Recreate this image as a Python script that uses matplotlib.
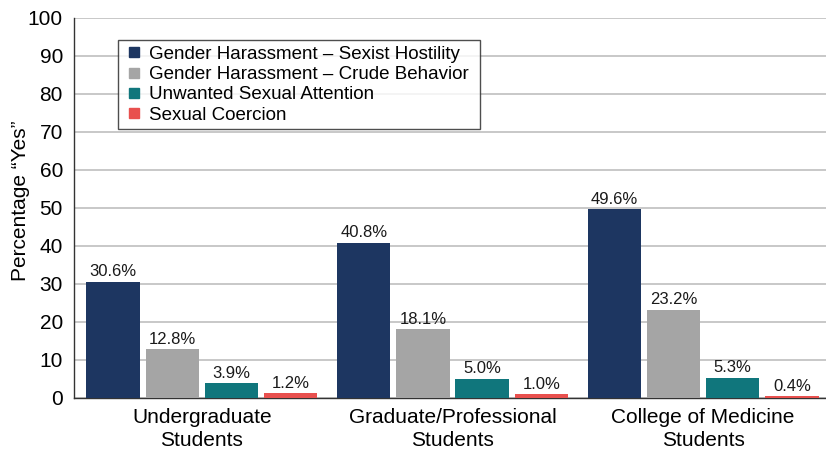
import numpy as np
import matplotlib.pyplot as plt
from matplotlib.lines import Line2D

plt.rcParams['font.family'] = ['Liberation Sans', 'DejaVu Sans']

groups = ['Undergraduate\nStudents', 'Graduate/Professional\nStudents', 'College of Medicine\nStudents']
series = ['Gender Harassment \u2013 Sexist Hostility',
          'Gender Harassment \u2013 Crude Behavior',
          'Unwanted Sexual Attention',
          'Sexual Coercion']
sexist_hostility = [30.6, 40.8, 49.6]
crude_behavior = [12.8, 18.1, 23.2]
unwanted_attention = [3.9, 5.0, 5.3]
coercion = [1.2, 1.0, 0.4]
colors = ['#1d3661', '#a5a5a5', '#10767c', '#e8504e']

values = [sexist_hostility, crude_behavior, unwanted_attention, coercion]

fig = plt.figure(figsize=(8.26, 4.49), dpi=100)
ax = fig.add_axes([0.0896, 0.1136, 0.9104, 0.8464])

x = np.arange(len(groups))
step = 0.236
width = 0.213
for i, (vals, col) in enumerate(zip(values, colors)):
    pos = x + 0.01 + (i - 1.5) * step
    bars = ax.bar(pos, vals, width, color=col, zorder=3)
    for b, v in zip(bars, vals):
        ax.text(b.get_x() + b.get_width() / 2, v + 0.7, '%.1f%%' % v,
                ha='center', va='bottom', fontsize=12, color='#1a1a1a')

ax.set_xlim(-0.5, 2.5)
ax.set_ylim(0, 100)
ax.set_yticks(np.arange(0, 101, 10))
ax.set_xticks(x + 0.01)
ax.set_xticklabels(groups, fontsize=15, linespacing=1.3)
ax.tick_params(axis='y', labelsize=15, length=0, pad=8)
ax.tick_params(axis='x', length=0, pad=7)
ax.yaxis.grid(True, color='#c4c4c4', linewidth=1.3, zorder=0)
ax.set_axisbelow(True)
for s in ['top', 'right']:
    ax.spines[s].set_visible(False)
ax.spines['left'].set_color('#333333')
ax.spines['bottom'].set_color('#333333')
ax.spines['left'].set_linewidth(1.0)
ax.spines['bottom'].set_linewidth(1.0)
ax.set_ylabel('Percentage \u201cYes\u201d', fontsize=15)
ax.yaxis.set_label_coords(-0.058, 0.52)

handles = [Line2D([], [], marker='s', linestyle='none', markersize=7.5,
                  markerfacecolor=c, markeredgecolor=c) for c in colors]
leg = ax.legend(handles, series, loc='upper left',
                bbox_to_anchor=(0.0585, 0.702, 0.481, 0.24), mode='expand',
                borderaxespad=0, fontsize=13.5, frameon=True, fancybox=False,
                handletextpad=0.25, labelspacing=0.17, borderpad=0.3,
                handlelength=1.1)
leg.get_frame().set_edgecolor('#222222')
leg.get_frame().set_linewidth(1.0)

fig.savefig('out.png', dpi=100)
